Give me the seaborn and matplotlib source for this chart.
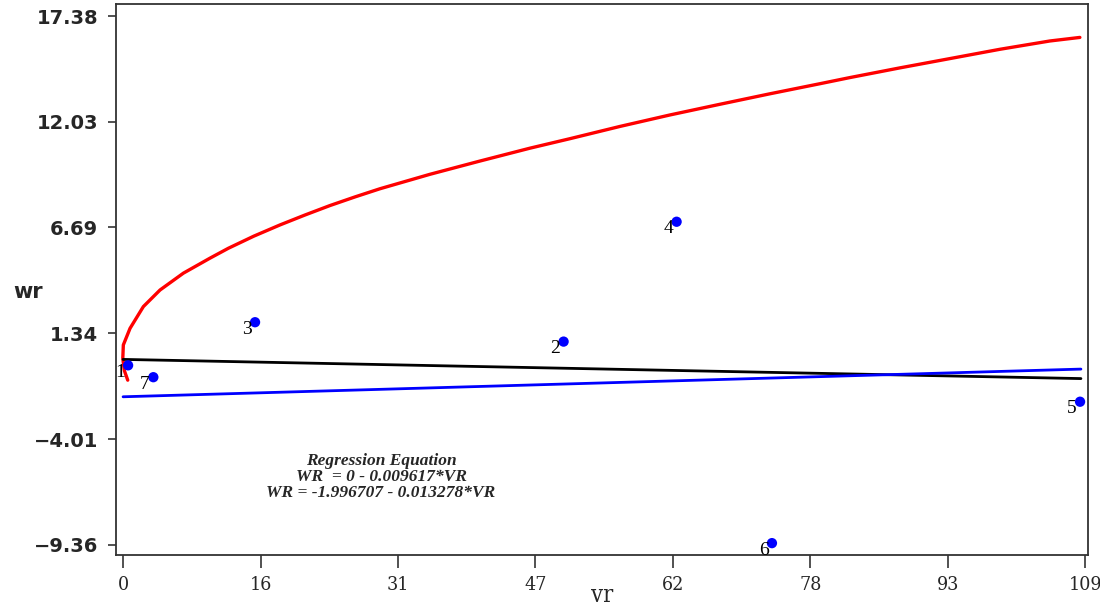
import matplotlib
matplotlib.use("Agg")
import matplotlib.pyplot as plt
import seaborn as sns
import pandas as pd

# ---- data ----
point_ids = ["1", "7", "3", "2", "4", "6", "5"]
point_vr = [0.57, 3.43, 14.95, 49.9, 62.7, 73.5, 108.4]
point_wr = [-0.28, -0.88, 1.9, 0.92, 6.98, -9.27, -2.12]

curve_vr = [0.53, 0.15, -0.03, 0.03, 0.79, 2.30, 4.19, 6.83, 9.85, 11.93, 14.8, 17.78,
            20.6, 23.44, 26.3, 29.11, 34.77, 40.43, 46.09, 50.62, 56.29, 61.95, 67.61,
            73.27, 78.94, 82.33, 87.99, 93.66, 99.32, 104.98, 108.38]
curve_wr = [-1.03, -0.55, 0.07, 0.75, 1.59, 2.69, 3.53, 4.38, 5.14, 5.64, 6.25, 6.82,
            7.32, 7.80, 8.24, 8.65, 9.38, 10.05, 10.70, 11.18, 11.80, 12.38, 12.92,
            13.45, 13.96, 14.27, 14.76, 15.23, 15.70, 16.12, 16.30]

black_vr = [0.0, 108.5]
black_wr = [0.02, -0.95]
blue_vr = [0.0, 108.5]
blue_wr = [-1.87, -0.47]

xtick_vals = [0, 15.571, 31.143, 46.714, 62.286, 77.857, 93.429, 109]
xtick_labels = ["0", "16", "31", "47", "62", "78", "93", "109"]
ytick_vals = [17.38, 12.03, 6.69, 1.34, -4.01, -9.36]
ytick_labels = ["17.38", "12.03", "6.69", "1.34", "\u22124.01", "\u22129.36"]

eq_lines = ["Regression Equation", "WR  = 0 - 0.009617*VR", "WR = -1.996707 - 0.013278*VR"]

# ---- figure ----
sns.set_style("white")
fig = plt.figure(figsize=(11, 6.05), dpi=100)
ax = fig.add_axes([116 / 1100, 1 - 555 / 605, (1088 - 116) / 1100, (555 - 4) / 605])

curve = pd.DataFrame({"vr": curve_vr, "wr": curve_wr})
sns.lineplot(data=curve, x="vr", y="wr", sort=False, estimator=None, color="#ff0000",
             linewidth=2.4, ax=ax)
sns.lineplot(x=black_vr, y=black_wr, color="black", linewidth=2.0, ax=ax, estimator=None)
sns.lineplot(x=blue_vr, y=blue_wr, color="#0000ff", linewidth=2.0, ax=ax, estimator=None)

pts = pd.DataFrame({"vr": point_vr, "wr": point_wr, "id": point_ids})
sns.scatterplot(data=pts, x="vr", y="wr", color="#0000ff", s=55, edgecolor="none",
                ax=ax, zorder=5)
for _, r in pts.iterrows():
    ax.annotate(r["id"], (r["vr"], r["wr"]), xytext=(-6, -5), textcoords="offset points",
                ha="center", va="center", fontsize=14, family="Liberation Serif",
                color="black", zorder=6)

ax.set_xlim(-0.8, 109.3)
ax.set_ylim(-9.87, 17.99)
ax.set_xticks(xtick_vals)
ax.set_xticklabels(xtick_labels, family="DejaVu Serif", fontstretch="condensed", fontsize=14)
ax.set_yticks(ytick_vals)
ax.set_yticklabels(ytick_labels, family="DejaVu Sans", fontweight="bold", fontsize=14)
ax.tick_params(axis="x", direction="out", length=9, width=1.2, color="#333333",
               bottom=True, pad=6)
ax.tick_params(axis="y", direction="out", length=6, width=1.2, color="#333333",
               left=True, pad=7)

for s in ax.spines.values():
    s.set_color("#333333")
    s.set_linewidth(1.3)

ax.set_xlabel("vr", family="DejaVu Serif", fontstretch="condensed", fontsize=17)
ax.xaxis.label.set_va("center")
ax.xaxis.set_label_coords(0.5, -(595 - 555) / 551)
ax.set_ylabel("wr", family=["DejaVu Sans"], fontweight="semibold", fontsize=15, rotation=0)
ax.yaxis.label.set_va("center")
ax.yaxis.set_label_coords(-(116 - 28) / 972, (555 - 292) / 551)

ys = [461, 477, 493]
for txt, yp in zip(eq_lines, ys):
    fig.text(381 / 1100, 1 - yp / 605, txt,
             ha="center", va="center", family="Liberation Serif", fontsize=12.5,
             fontweight="bold", fontstyle="italic")

fig.savefig("out.png", dpi=100)
